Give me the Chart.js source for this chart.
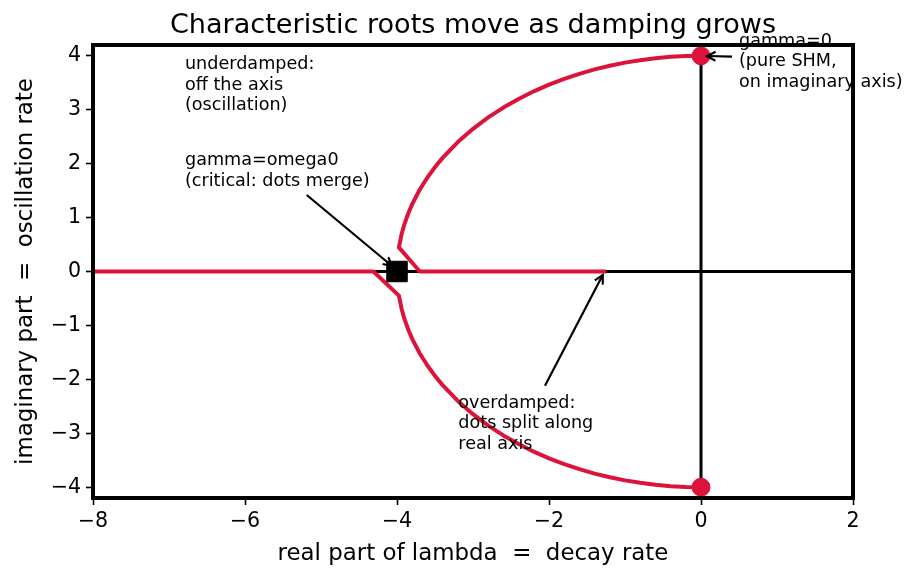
<!DOCTYPE html>
<html><head><meta charset="utf-8">
<script src="https://cdn.jsdelivr.net/npm/chart.js@4.4.1/dist/chart.umd.min.js"></script>
<style>html,body{margin:0;padding:0;background:#fff;overflow:hidden}#wrap{width:915px;height:579px}</style>
</head><body><div id="wrap"><canvas id="c" width="915" height="579"></canvas></div>
<script>
// ---- data ----
const titleText = 'Characteristic roots move as damping grows';
const xLabel = 'real part of lambda  =  decay rate';
const yLabel = 'imaginary part  =  oscillation rate';
const xLimits = [-8, 2];
const yLimits = [-4.2, 4.2];
const xTickValues = [-8, -6, -4, -2, 0, 2];
const yTickValues = [-4, -3, -2, -1, 0, 1, 2, 3, 4];
// upper root branch (underdamped arc, then overdamped slow root on the real axis)
const upperReal = [0, -0.2, -0.4, -0.6, -0.8, -1.0, -1.2, -1.4, -1.6, -1.8, -2.0, -2.2, -2.4, -2.6, -2.8, -3.0, -3.2, -3.4, -3.5, -3.6, -3.7, -3.8, -3.85, -3.9, -3.94, -3.975, -3.70, -1.25];
const upperImag = [4.0, 3.995, 3.980, 3.955, 3.919, 3.873, 3.816, 3.747, 3.666, 3.572, 3.464, 3.341, 3.200, 3.040, 2.857, 2.646, 2.400, 2.107, 1.936, 1.744, 1.520, 1.249, 1.085, 0.889, 0.690, 0.447, 0, 0];
// lower root branch (mirror arc, then overdamped fast root running off to the left)
const lowerReal = [0, -0.2, -0.4, -0.6, -0.8, -1.0, -1.2, -1.4, -1.6, -1.8, -2.0, -2.2, -2.4, -2.6, -2.8, -3.0, -3.2, -3.4, -3.5, -3.6, -3.7, -3.8, -3.85, -3.9, -3.94, -3.975, -4.31, -12.7];
const lowerImag = [-4.0, -3.995, -3.980, -3.955, -3.919, -3.873, -3.816, -3.747, -3.666, -3.572, -3.464, -3.341, -3.200, -3.040, -2.857, -2.646, -2.400, -2.107, -1.936, -1.744, -1.520, -1.249, -1.085, -0.889, -0.690, -0.447, 0, 0];
const shmRootsReal = [0, 0];
const shmRootsImag = [4, -4];
const criticalReal = [-4];
const criticalImag = [0];
// annotations: text lines, text anchor (data coords of first baseline, left), arrow tail & head (data coords)
const noteTexts = [
  ['gamma=0', '(pure SHM,', 'on imaginary axis)'],
  ['underdamped:', 'off the axis', '(oscillation)'],
  ['gamma=omega0', '(critical: dots merge)'],
  ['overdamped:', 'dots split along', 'real axis']
];
const noteAnchorX = [0.5, -6.79, -6.79, -3.193];
const noteAnchorY = [4.19, 3.75, 1.975, -2.525];
const arrowTailX = [0.408, null, -5.188, -2.053];
const arrowTailY = [3.983, null, 1.418, -2.119];
const arrowHeadX = [0.079, null, -4.066, -1.293];
const arrowHeadY = [3.996, null, 0.102, -0.065];

const CRIMSON = '#DC143C';
const FONT = '"DejaVu Sans", "Liberation Sans", sans-serif';
const fmtMinus = v => (v < 0 ? '\u2212' + Math.abs(v) : String(v));
const pts = (xs, ys) => xs.map((x, i) => ({x, y: ys[i]}));

const overlay = {
  id: 'overlay',
  afterDraw(chart) {
    const {ctx, chartArea: a, scales: {x, y}} = chart;
    ctx.save();
    ctx.fillStyle = '#000';
    ctx.font = '17.6px ' + FONT;
    ctx.textAlign = 'left';
    ctx.textBaseline = 'alphabetic';
    noteTexts.forEach((lines, i) => {
      const px = x.getPixelForValue(noteAnchorX[i]);
      const py = y.getPixelForValue(noteAnchorY[i]);
      lines.forEach((t, j) => ctx.fillText(t, px, py + j * 20.6));
    });
    ctx.strokeStyle = '#000';
    ctx.lineWidth = 2.2;
    ctx.lineCap = 'butt';
    for (let i = 0; i < noteTexts.length; i++) {
      if (arrowTailX[i] === null) continue;
      const x0 = x.getPixelForValue(arrowTailX[i]), y0 = y.getPixelForValue(arrowTailY[i]);
      const x1 = x.getPixelForValue(arrowHeadX[i]), y1 = y.getPixelForValue(arrowHeadY[i]);
      const ang = Math.atan2(y1 - y0, x1 - x0);
      ctx.beginPath(); ctx.moveTo(x0, y0); ctx.lineTo(x1, y1); ctx.stroke();
      const L = 8.5, W = 4.5;
      const bx = x1 - L * Math.cos(ang), by = y1 - L * Math.sin(ang);
      const nx = -Math.sin(ang) * W, ny = Math.cos(ang) * W;
      ctx.beginPath();
      ctx.moveTo(bx + nx, by + ny); ctx.lineTo(x1, y1); ctx.lineTo(bx - nx, by - ny);
      ctx.lineJoin = 'miter';
      ctx.stroke();
    }
    ctx.lineWidth = 4;
    ctx.strokeStyle = '#000';
    ctx.strokeRect(a.left, a.top, a.right - a.left, a.bottom - a.top);
    ctx.font = '27.1px ' + FONT;
    ctx.textAlign = 'center';
    ctx.textBaseline = 'middle';
    ctx.fillText(titleText, (a.left + a.right) / 2, 26);
    ctx.restore();
  }
};

new Chart(document.getElementById('c'), {
  type: 'scatter',
  data: {
    datasets: [
      {label: 'shm', data: pts(shmRootsReal, shmRootsImag), showLine: false, pointRadius: 9, pointHoverRadius: 9,
       backgroundColor: CRIMSON, borderColor: CRIMSON, borderWidth: 1, order: 0},
      {label: 'critical', data: pts(criticalReal, criticalImag), showLine: false, pointStyle: 'rect', pointRadius: 14.5, pointHoverRadius: 14.5,
       backgroundColor: '#000', borderColor: '#000', borderWidth: 1, order: 0},
      {label: 'upper', data: pts(upperReal, upperImag), showLine: true, pointRadius: 0, borderColor: CRIMSON, borderWidth: 4,
       tension: 0, fill: false, order: 1, borderJoinStyle: 'round'},
      {label: 'lower', data: pts(lowerReal, lowerImag), showLine: true, pointRadius: 0, borderColor: CRIMSON, borderWidth: 4,
       tension: 0, fill: false, order: 1, borderJoinStyle: 'round'},
      {label: 'realAxis', data: pts(xLimits, [0, 0]), showLine: true, pointRadius: 0, borderColor: '#000', borderWidth: 3, order: 2},
      {label: 'imagAxis', data: pts([0, 0], yLimits), showLine: true, pointRadius: 0, borderColor: '#000', borderWidth: 3, order: 2}
    ]
  },
  options: {
    responsive: false,
    animation: false,
    devicePixelRatio: 1,
    events: [],
    layout: {padding: {left: 0, right: 62, top: 45, bottom: 0}},
    plugins: {legend: {display: false}, tooltip: {enabled: false}, title: {display: false}},
    scales: {
      x: {
        type: 'linear', min: xLimits[0], max: xLimits[1],
        afterFit(s) { s.height = 81; },
        afterBuildTicks(s) { s.ticks = xTickValues.map(v => ({value: v})); },
        grid: {drawOnChartArea: false, drawTicks: true, tickLength: 7, tickColor: '#000', tickWidth: 1.6},
        border: {display: false},
        ticks: {color: '#000', font: {family: FONT, size: 20.6}, padding: 4, maxRotation: 0, callback: v => fmtMinus(v)},
        title: {display: true, text: xLabel, color: '#000', font: {family: FONT, size: 22.9}, padding: {top: 0, bottom: 11}}
      },
      y: {
        type: 'linear', min: yLimits[0], max: yLimits[1],
        afterFit(s) { s.width = 93; },
        afterBuildTicks(s) { s.ticks = yTickValues.map(v => ({value: v})); },
        grid: {drawOnChartArea: false, drawTicks: true, tickLength: 7, tickColor: '#000', tickWidth: 1.6},
        border: {display: false},
        ticks: {color: '#000', font: {family: FONT, size: 20.6}, padding: 5, callback: v => fmtMinus(v)},
        title: {display: true, text: yLabel, color: '#000', font: {family: FONT, size: 22.9}, padding: {top: 12, bottom: 0}}
      }
    }
  },
  plugins: [overlay]
});
</script></body></html>
